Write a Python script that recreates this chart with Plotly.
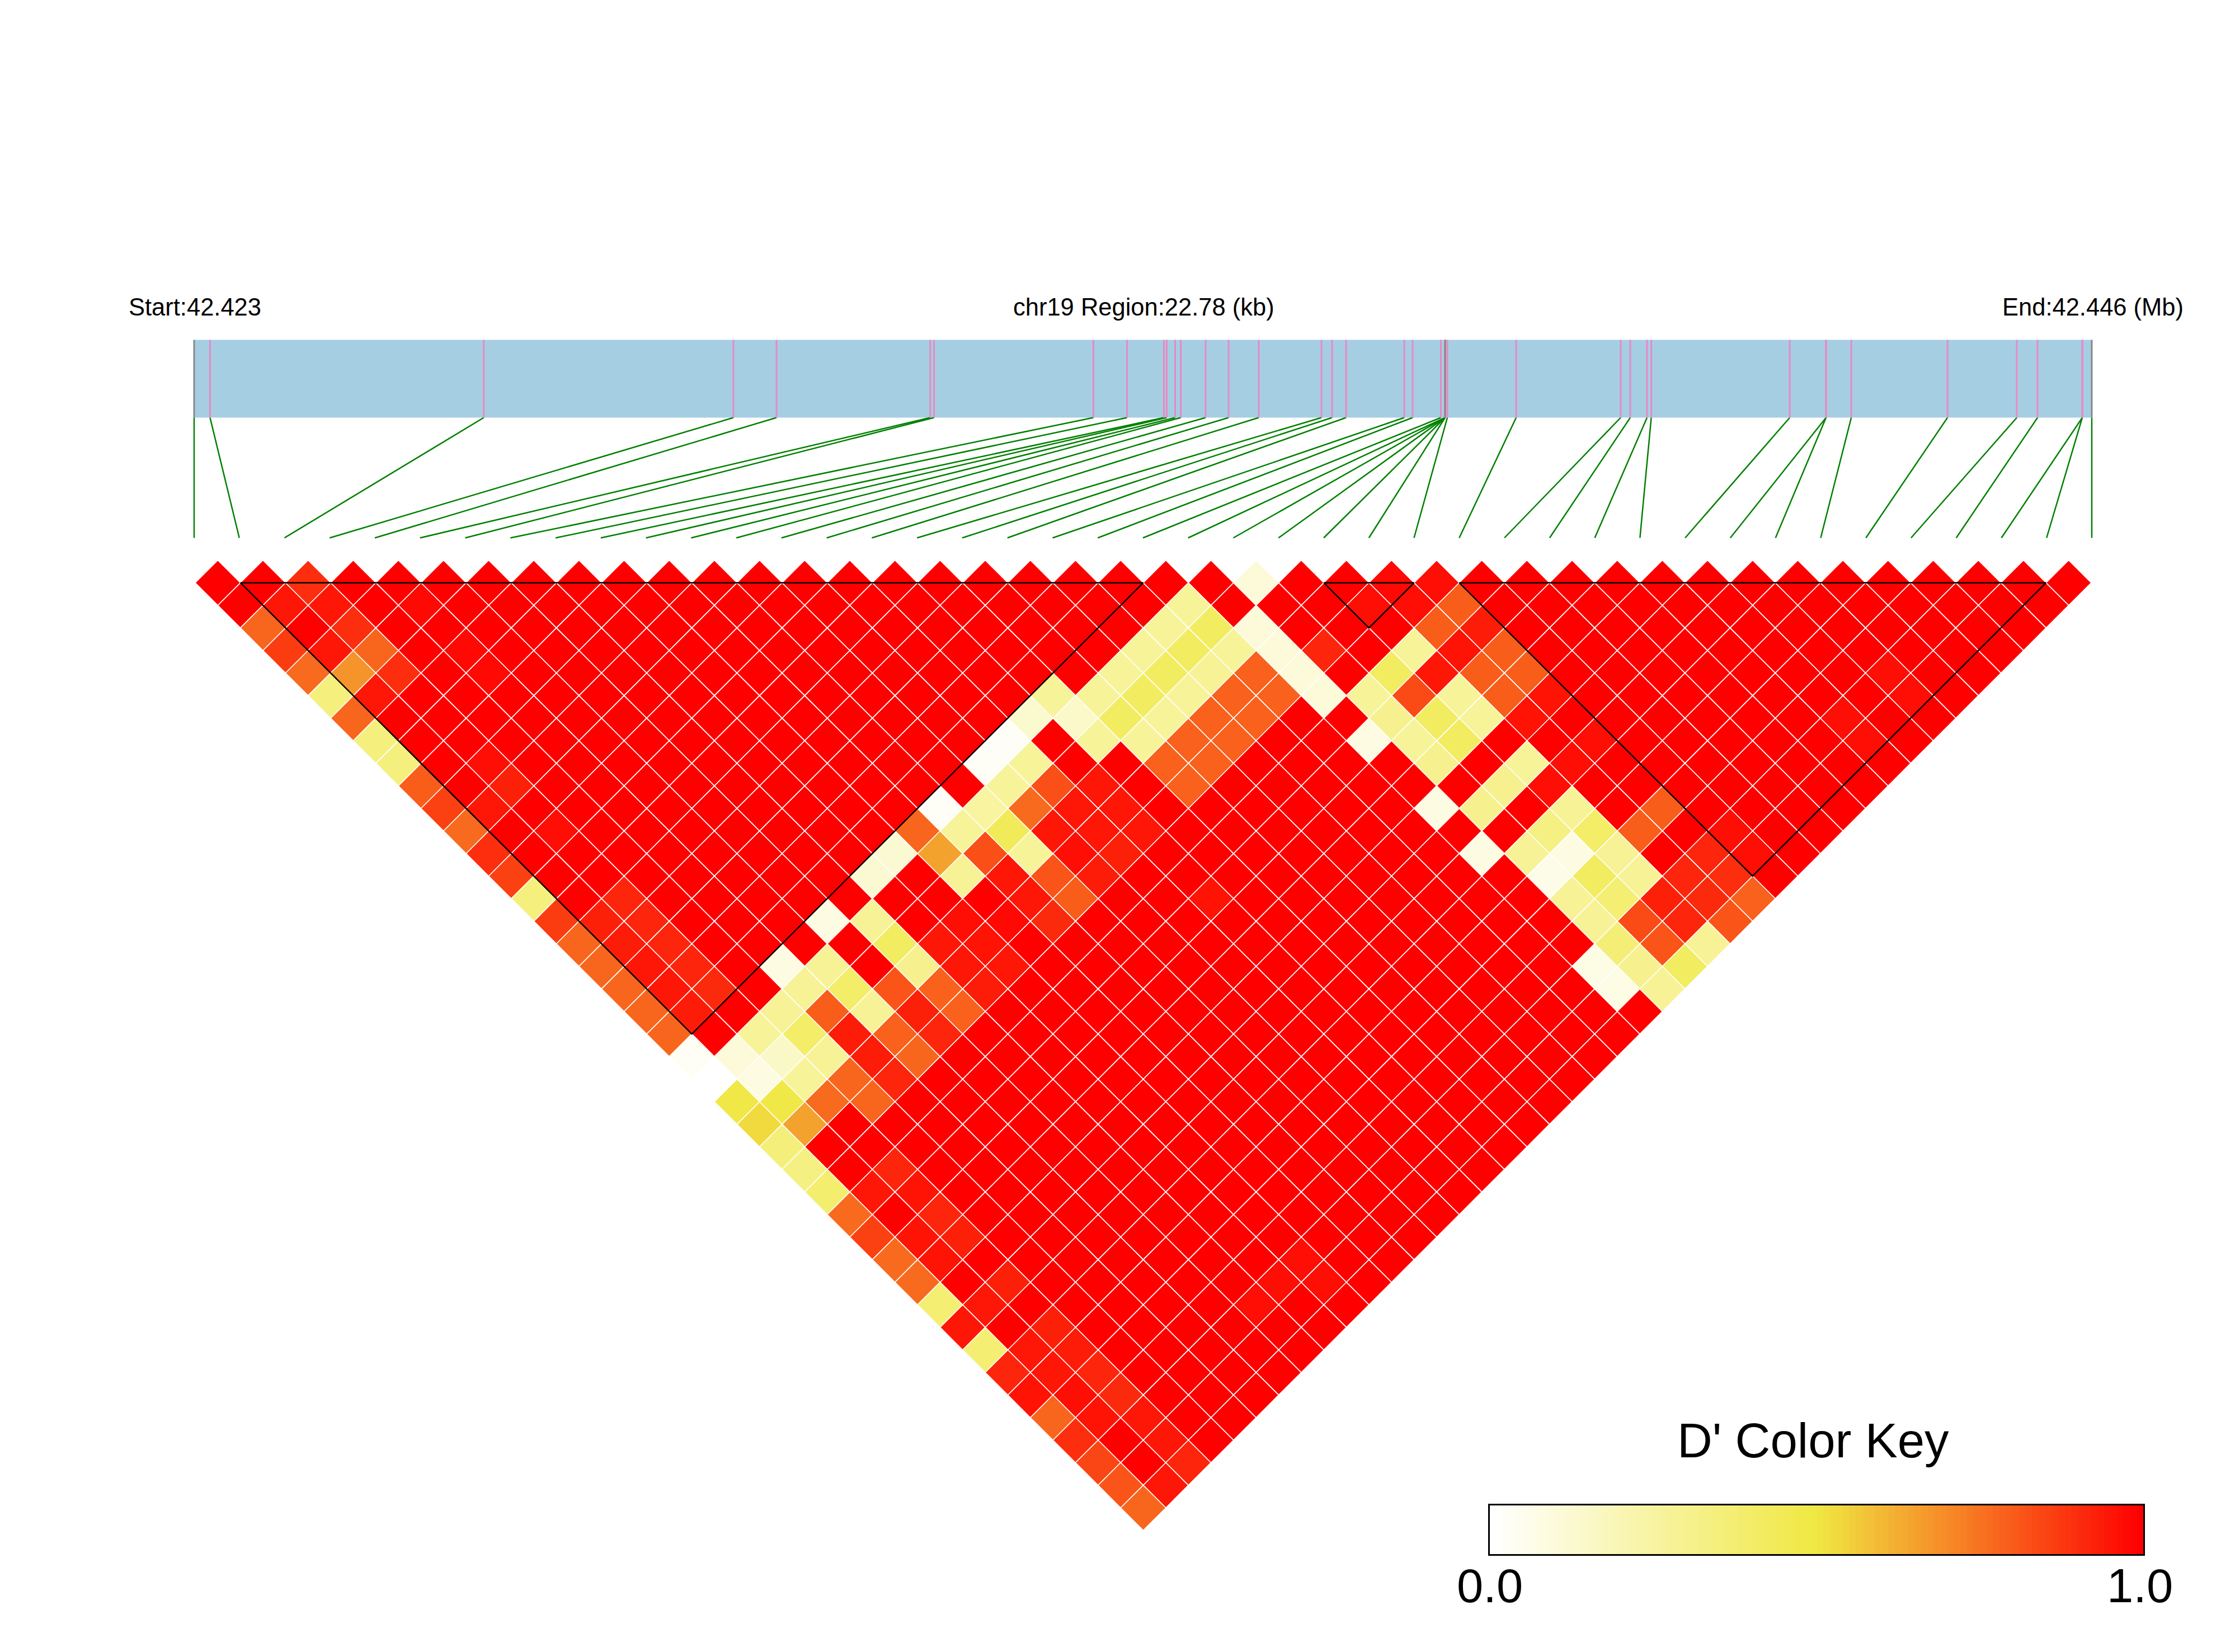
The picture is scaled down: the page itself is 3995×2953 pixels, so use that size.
import numpy as np
import plotly.graph_objects as go

W, H = 3995, 2953
SPAN_KB = 22.78

# SNP positions along the region (kb from start)
snp_kb = [0.0, 0.191, 3.477, 6.474, 6.991, 8.836, 8.882, 10.795, 11.199, 11.642, 11.675,
          11.776, 11.844, 12.142, 12.418, 12.780, 13.533, 13.660, 13.828, 14.527, 14.627,
          14.966, 15.017, 15.017, 15.017, 15.017, 15.017, 15.044, 15.870, 17.125, 17.240,
          17.441, 17.492, 19.154, 19.590, 19.590, 19.893, 21.048, 21.880, 22.129, 22.666,
          22.666, 22.78]
gray_snps = [0, 24, 42]

# LD blocks, as first and last SNP index
blocks = [(1, 21), (25, 27), (28, 41)]

# D' values read per row (row = SNP distance - 1). Keys are the horizontal slot in the row;
# every slot not listed reads as 1.0
r00 = {4: .9, 46: .1, 52: .98, 54: .97}
r01 = {3: .95, 5: .95, 9: .98, 43: .27, 51: .97, 53: .97, 55: .8}
r02 = {2: .78, 6: .9, 42: .27, 44: .42, 46: .1, 54: .8, 56: .94}
r03 = {3: .87, 5: .95, 7: .78, 11: .98, 41: .27, 43: .42, 45: .27, 47: .1, 49: .92, 53: .27, 55: .96, 57: .8}
r04 = {4: .77, 6: .68, 8: .9, 12: .98, 40: .27, 42: .42, 44: .28, 46: .79, 48: .1, 52: .42, 54: .95, 56: .8, 58: .8, 74: .97}
r05 = {5: .34, 7: .95, 37: .27, 39: .27, 41: .42, 43: .27, 45: .79, 47: .79, 49: .1, 51: .27, 53: .84, 55: .27, 57: .8, 59: .96, 75: .97}
r06 = {6: .78, 36: .13, 38: .14, 40: .42, 42: .27, 44: .79, 46: .79, 52: .3, 54: .42, 56: .27, 58: .96, 72: .97}
r07 = {7: .34, 35: .02, 39: .27, 41: .27, 43: .79, 45: .79, 51: .08, 53: .27, 55: .42, 61: .97, 73: .97}
r08 = {8: .34, 12: .97, 34: .02, 36: .27, 42: .79, 44: .79, 54: .3, 58: .27, 60: .97}
r09 = {9: .8, 13: .93, 35: .27, 37: .83, 39: .95, 43: .79, 57: .3, 59: .97}
r10 = {10: .86, 12: .95, 32: .02, 34: .25, 36: .77, 38: .95, 40: .95, 54: .08, 56: .3, 60: .28, 64: .8}
r11 = {11: .77, 15: .97, 31: .78, 33: .27, 35: .44, 37: .95, 39: .95, 41: .95, 59: .33, 61: .4, 63: .8, 67: .97}
r12 = {12: .9, 30: .12, 32: .65, 34: .83, 36: .27, 38: .97, 40: .93, 56: .08, 58: .28, 60: .08, 62: .28, 66: .92, 68: .97}
r13 = {13: .86, 29: .12, 33: .28, 35: .95, 37: .82, 39: .94, 59: .06, 61: .42, 63: .28, 65: .92, 67: .9}
r14 = {14: .34, 18: .92, 36: .95, 38: .8, 44: .96, 60: .28, 62: .37, 64: .93, 66: .91, 68: .79}
r15 = {15: .87, 17: .93, 19: .92, 27: .08, 29: .28, 33: .97, 35: .98, 37: .91, 61: .28, 63: .84, 65: .92, 67: .82}
r16 = {16: .78, 18: .94, 20: .92, 30: .42, 32: .95, 34: .96, 62: .36, 64: .82, 66: .28}
r17 = {17: .78, 19: .95, 21: .92, 25: .08, 27: .28, 31: .3, 33: .95, 35: .95, 61: .07, 63: .3, 65: .42}
r18 = {18: .78, 20: .95, 22: .91, 26: .28, 28: .4, 30: .82, 32: .79, 34: .94, 62: .07, 64: .28}
r19 = {19: .78, 21: .94, 25: .28, 27: .8, 29: .28, 31: .93, 33: .79}
r20 = {20: .78, 24: .27, 26: .4, 28: .94, 30: .79, 32: .92}
r21 = {21: .03, 23: .1, 25: .15, 27: .28, 29: .94, 31: .78}
r22 = {22: 0.0, 24: .08, 26: .27, 28: .78, 30: .92}
r23 = {23: .49, 25: .49, 27: .77, 29: .78}
r24 = {24: .53, 26: .65}
r25 = {25: .35}
r26 = {26: .33, 30: .92}
r27 = {27: .38, 29: .95, 31: .96}
r28 = {28: .77, 32: .92}
r29 = {29: .86, 31: .96, 33: .93}
r30 = {30: .77, 32: .96, 48: .97}
r31 = {31: .77, 35: .93, 47: .97, 49: .97}
r32 = {32: .37, 34: .95, 46: .97}
r33 = {33: .95, 37: .93}
r34 = {34: .37, 36: .95, 38: .94}
r35 = {35: .92, 37: .95, 39: .92}
r36 = {36: .96, 38: .97, 40: .91}
r37 = {37: .78, 39: .96, 41: .95}
r38 = {38: .9, 42: .95}
r39 = {39: .85, 43: .92}
r40 = {40: .82, 42: .95}
r41 = {41: .78}
rows = [r00, r01, r02, r03, r04, r05, r06, r07, r08, r09, r10, r11, r12, r13, r14, r15, r16, r17,
        r18, r19, r20, r21, r22, r23, r24, r25, r26, r27, r28, r29, r30, r31, r32, r33, r34, r35,
        r36, r37, r38, r39, r40, r41]

n_snps = len(snp_kb)
c0, c1, c2 = (255, 255, 255), (240, 232, 66), (255, 0, 0)
colorscale = [[0, f"rgb{c0}"], [0.5, f"rgb{c1}"], [1, f"rgb{c2}"]]


def colour(v):
    a, b, t = (c0, c1, v * 2) if v < 0.5 else (c1, c2, (v - 0.5) * 2)
    return "rgb(" + ",".join(str(round(a[k] + (b[k] - a[k]) * t)) for k in range(3)) + ")"


# layout of the page, pixels
X_CELL0, X_CELL = 349.0, 80.69      # SNP index axis
Y_ROW0, Y_ROW = 1041.7, 40.33       # row axis
X_KB0, X_KB = 347.0, 3392 / SPAN_KB  # kb axis
STRIP_TOP, STRIP_BOTTOM, LINK_BOTTOM = 607.5, 746.5, 961.5


def rowunit(py):
    return (py - Y_ROW0) / Y_ROW


fig = go.Figure()

# LD cells grouped by value, slot u in row r is SNP pair (i, i + r + 1), i = (u - r) / 2
groups = {}
for r, row in enumerate(rows):
    for i in range(n_snps - 1 - r):
        u = 2 * i + r
        j = i + r + 1
        groups.setdefault(row.get(u, 1.0), []).append((i, j, r))

for v in sorted(groups, reverse=True):
    xs, ys = [], []
    for i, j, r in groups[v]:
        cx = (i + j) / 2
        xs += [cx - 0.5, cx, cx + 0.5, cx, cx - 0.5, None]
        ys += [r, r - 1, r, r + 1, r, None]
    fig.add_trace(go.Scatter(x=xs, y=ys, mode="lines", fill="toself", fillcolor=colour(v),
                             line=dict(color="white", width=1.5), hoverinfo="skip"))

# blocks
xs, ys = [], []
for a, b in blocks:
    xs += [a, b, (a + b) / 2, a, None]
    ys += [0, 0, b - a, 0, None]
fig.add_trace(go.Scatter(x=xs, y=ys, mode="lines", line=dict(color="black", width=2.5), hoverinfo="skip"))

# gene strip
t, b, l = rowunit(STRIP_TOP), rowunit(STRIP_BOTTOM), rowunit(LINK_BOTTOM)
fig.add_trace(go.Scatter(x=[0, SPAN_KB, SPAN_KB, 0, 0], y=[t, t, b, b, t], xaxis="x2", mode="lines",
                         fill="toself", fillcolor="#A6CEE3", line=dict(width=0), hoverinfo="skip"))

# links from the strip to evenly spaced SNP slots
xs, ys = [], []
for k, p in enumerate(snp_kb):
    xs += [p, k * SPAN_KB / (n_snps - 1), None]
    ys += [b, l, None]
fig.add_trace(go.Scatter(x=xs, y=ys, xaxis="x2", mode="lines", line=dict(color="#008000", width=2.5),
                         hoverinfo="skip"))

# SNP ticks in the strip
for idx, col in (([k for k in range(n_snps) if k not in gray_snps], "#E78AC3"), (gray_snps, "#888888")):
    xs, ys = [], []
    for k in idx:
        xs += [snp_kb[k], snp_kb[k], None]
        ys += [t, b, None]
    fig.add_trace(go.Scatter(x=xs, y=ys, xaxis="x2", mode="lines", line=dict(color=col, width=3),
                             hoverinfo="skip"))

# colour key
key_steps = np.linspace(0, 1, 100)
fig.add_trace(go.Heatmap(z=[key_steps], x=(np.arange(100) + 0.5) / 100, y=[0], xaxis="x3", yaxis="y3",
                         zmin=0, zmax=1, colorscale=colorscale, showscale=False, hoverinfo="skip"))


def hidden(**kw):
    return dict(visible=False, showgrid=False, zeroline=False, **kw)


FONT = "Liberation Sans"
def note(text, px, py, size, anchor, **kw):
    d = dict(text=text, x=px / W, y=1 - py / H, xref="paper", yref="paper", showarrow=False,
             xanchor=anchor, yanchor="middle", font=dict(family=FONT, size=size, color="black"))
    d.update(kw)
    return d


annotations = [
    note("Start:42.423", 228, 549, 43.5, "left"),
    note("chr19 Region:22.78 (kb)", 2044, 549, 43.5, "center"),
    note("End:42.446 (Mb)", 3905, 549, 43.5, "right"),
    note("D' Color Key", 3241, 2574, 87, "center"),
    note("0.0", 0, 2834, 85, "center", x=0, xref="x3"),
    note("1.0", 0, 2834, 85, "center", x=1, xref="x3", xshift=-6),
]

key_axis = dict(showgrid=False, zeroline=False, showticklabels=False, ticks="", showline=True,
                mirror=True, linecolor="black", linewidth=2.5)

fig.update_layout(
    width=W, height=H, margin=dict(l=0, r=0, t=0, b=0), autosize=False,
    paper_bgcolor="white", plot_bgcolor="white", showlegend=False,
    annotations=annotations,
    xaxis=hidden(range=[-X_CELL0 / X_CELL, (W - X_CELL0) / X_CELL], domain=[0, 1]),
    yaxis=hidden(range=[(H - Y_ROW0) / Y_ROW, -Y_ROW0 / Y_ROW], domain=[0, 1]),
    xaxis2=hidden(range=[-X_KB0 / X_KB, (W - X_KB0) / X_KB], overlaying="x", anchor="y"),
    xaxis3=dict(range=[0, 1], domain=[2663 / W, 3831 / W], anchor="y3", **key_axis),
    yaxis3=dict(range=[-0.5, 0.5], domain=[1 - 2778 / H, 1 - 2691 / H], anchor="x3", **key_axis),
)

fig.write_html("out.html", config={"displayModeBar": False},
               post_script="document.body.style.margin='0';")
